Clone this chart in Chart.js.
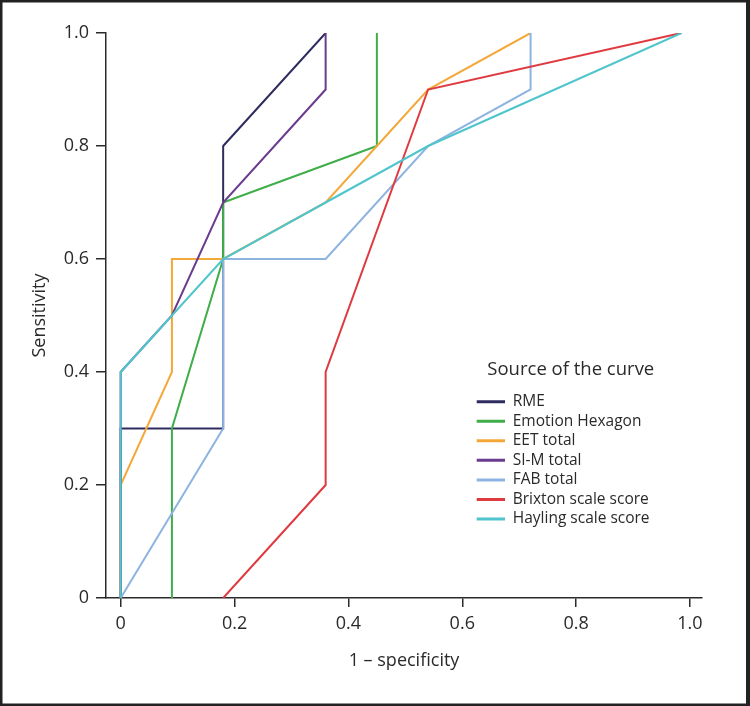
<!DOCTYPE html>
<html>
<head>
<meta charset="utf-8">
<title>ROC curves</title>
<script src="https://cdn.jsdelivr.net/npm/chart.js@4/dist/chart.umd.min.js"></script>
<style>
    html, body { margin: 0; padding: 0; background: #fff; }
    #wrap { width: 750px; height: 706px; position: relative; }
</style>
</head>
<body>
<div id="wrap"><canvas id="roc" width="750" height="706"></canvas></div>
<script>
// curves, in legend order
const curveNames = ['RME', 'Emotion Hexagon', 'EET total', 'SI-M total', 'FAB total', 'Brixton scale score', 'Hayling scale score'];
const curveColors = ['#2e2b5f', '#3fae4a', '#f4a83a', '#6b3b8f', '#8db3e0', '#df3a40', '#4ec5cc'];

// 1 - specificity (x) and sensitivity (y) for each curve
const rmeX = [0, 0, 0.18, 0.18, 0.36];
const rmeY = [0, 0.3, 0.3, 0.8, 1.0];
const hexagonX = [0.09, 0.09, 0.18, 0.18, 0.45, 0.45];
const hexagonY = [0, 0.3, 0.6, 0.7, 0.8, 1.0];
const eetX = [0, 0, 0.09, 0.09, 0.18, 0.36, 0.45, 0.54, 0.72];
const eetY = [0, 0.2, 0.4, 0.6, 0.6, 0.7, 0.8, 0.9, 1.0];
const simX = [0, 0, 0.09, 0.18, 0.36, 0.36];
const simY = [0, 0.4, 0.5, 0.7, 0.9, 1.0];
const fabX = [0, 0.18, 0.18, 0.36, 0.54, 0.72, 0.72];
const fabY = [0, 0.3, 0.6, 0.6, 0.8, 0.9, 1.0];
const brixtonX = [0.18, 0.36, 0.36, 0.54, 0.985];
const brixtonY = [0, 0.2, 0.4, 0.9, 1.0];
const haylingX = [0, 0, 0.09, 0.18, 0.36, 0.54, 0.985];
const haylingY = [0, 0.4, 0.5, 0.6, 0.7, 0.8, 1.0];

const curveXs = [rmeX, hexagonX, eetX, simX, fabX, brixtonX, haylingX];
const curveYs = [rmeY, hexagonY, eetY, simY, fabY, brixtonY, haylingY];

// axis ticks
const xTickValues = [0, 0.2, 0.4, 0.6, 0.8, 1.0];
const xTickLabels = ['0', '0.2', '0.4', '0.6', '0.8', '1.0'];
const yTickValues = [0, 0.2, 0.4, 0.6, 0.8, 1.0];
const yTickLabels = ['0', '0.2', '0.4', '0.6', '0.8', '1.0'];

const axisColor = '#2b2b2b';
const textColor = '#2a2a2a';
const fontFamily = "'Open Sans', 'Noto Sans', sans-serif";

function buildDatasets() {
    let datasets = [];
    for (let i = 0; i < curveNames.length; i++) {
        let xs = curveXs[i];
        let ys = curveYs[i];
        datasets.push({
            label: curveNames[i],
            data: xs.map((x, j) => ({ x: x, y: ys[j] })),
            borderColor: curveColors[i],
            backgroundColor: curveColors[i],
            borderWidth: 2,
            pointRadius: 0,
            tension: 0,
            fill: false,
            // later curves are painted over earlier ones
            order: curveNames.length - i
        });
    }
    return datasets;
}

// puts the legend inside the plot, lower right
const legendPlacer = {
    id: 'legendPlacer',
    afterLayout(chart) {
        let lg = chart.legend;
        let pad = lg.options.labels.padding;
        lg.left = 476.7 - pad;
        lg.top = 360.75;
        lg.width = 2 * (570.8 - lg.left);
        lg.right = lg.left + lg.width;
        lg.height = 220;
        lg.bottom = lg.top + lg.height;
    }
};

// dark frame round the figure
const frame = {
    id: 'frame',
    afterDraw(chart) {
        let ctx = chart.ctx;
        ctx.save();
        ctx.fillStyle = '#222';
        ctx.fillRect(0, 0, 750, 2.5);
        ctx.fillRect(0, 0, 2.5, 706);
        ctx.fillRect(746, 0, 4, 706);
        ctx.fillRect(0, 703.5, 750, 2.5);
        ctx.restore();
    }
};

let ctx = document.getElementById('roc').getContext('2d');
let chart = new Chart(ctx, {
    type: 'line',
    data: { datasets: buildDatasets() },
    plugins: [legendPlacer, frame],
    options: {
        responsive: false,
        animation: false,
        events: [],
        layout: { padding: { left: 10, top: 33, right: 48, bottom: 8 } },
        scales: {
            x: {
                type: 'linear',
                min: -0.0258,
                max: 1.0211,
                afterBuildTicks: scale => { scale.ticks = xTickValues.map(v => ({ value: v })); },
                afterFit: scale => { scale.height = 100; },
                ticks: {
                    callback: (value, index) => xTickLabels[index],
                    color: textColor,
                    padding: 6,
                    maxRotation: 0,
                    autoSkip: false,
                    font: { family: fontFamily, size: 18 }
                },
                grid: { display: true, drawOnChartArea: false, drawTicks: true, tickLength: 9, color: axisColor, lineWidth: 1.5 },
                border: { display: true, color: axisColor, width: 1.5 },
                title: {
                    display: true,
                    text: '1 \u2013 specificity',
                    color: textColor,
                    font: { family: fontFamily, size: 18 },
                    padding: { top: 0, bottom: 26.7 }
                }
            },
            y: {
                type: 'linear',
                min: 0,
                max: 1,
                afterBuildTicks: scale => { scale.ticks = yTickValues.map(v => ({ value: v })); },
                afterFit: scale => { scale.width = 96; },
                ticks: {
                    callback: (value, index) => yTickLabels[index],
                    color: textColor,
                    padding: 7,
                    autoSkip: false,
                    font: { family: fontFamily, size: 18 }
                },
                grid: { display: true, drawOnChartArea: false, drawTicks: true, tickLength: 10, color: axisColor, lineWidth: 1.5 },
                border: { display: true, color: axisColor, width: 1.5 },
                title: {
                    display: true,
                    text: 'Sensitivity',
                    color: textColor,
                    font: { family: fontFamily, size: 18 },
                    padding: { top: 19.5, bottom: 0 }
                }
            }
        },
        plugins: {
            tooltip: { enabled: false },
            legend: {
                position: 'chartArea',
                align: 'start',
                title: {
                    display: true,
                    text: 'Source of the curve',
                    position: 'center',
                    color: textColor,
                    font: { family: fontFamily, size: 18.5 },
                    padding: { top: 0, bottom: 6.95 }
                },
                labels: {
                    boxWidth: 28.3,
                    boxHeight: 3,
                    padding: 4.05,
                    color: textColor,
                    font: { family: fontFamily, size: 15.5 },
                    generateLabels: chart => chart.data.datasets.map((ds, i) => ({
                        text: ds.label,
                        fillStyle: ds.borderColor,
                        strokeStyle: ds.borderColor,
                        lineWidth: 0,
                        hidden: false,
                        fontColor: textColor,
                        datasetIndex: i
                    }))
                }
            }
        }
    }
});
</script>
</body>
</html>
